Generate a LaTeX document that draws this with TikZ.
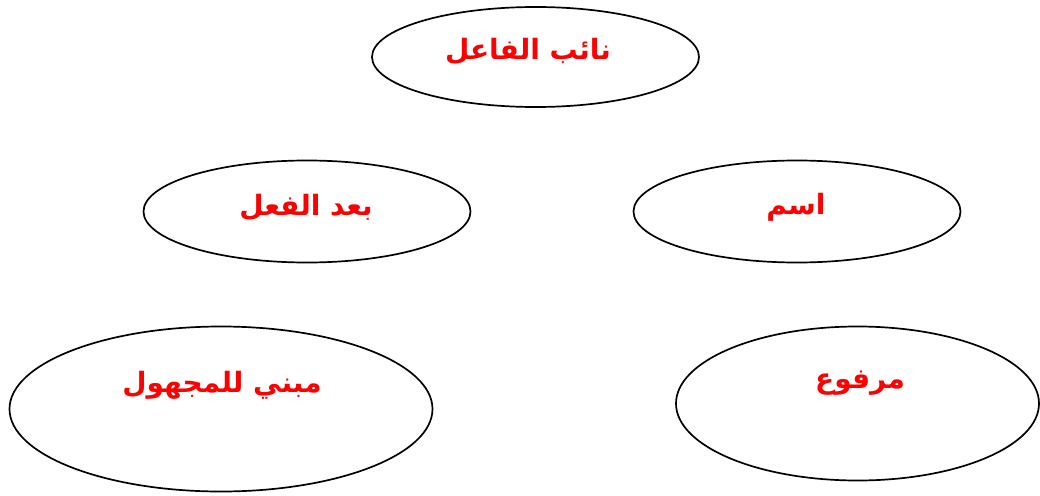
\documentclass[tikz,border=0pt]{standalone}
\usepackage{fontspec}
\usetikzlibrary{shapes.geometric}
\TeXXeTstate=1
\newfontfamily\arabicfont[Script=Arabic]{DejaVu Sans}
\begin{document}
\begin{tikzpicture}[x=1pt,y=-1pt,
  oval/.style={draw=black,line width=1.7pt,ellipse,inner sep=0pt,fill=white},
  lbl/.style={text=red,font=\arabicfont\bfseries\fontsize{28}{32}\selectfont,inner sep=0pt}]
\useasboundingbox[fill=white] (0,0) rectangle (1040,495);
\node[oval,minimum width=327pt,minimum height=100pt] (e1) at (535.5,57) {};
\node[oval,minimum width=327pt,minimum height=102pt] (e2) at (307,211.5) {};
\node[oval,minimum width=327pt,minimum height=102pt] (e3) at (797,211.5) {};
\node[oval,minimum width=423pt,minimum height=165pt] (e4) at (221,409) {};
\node[oval,minimum width=363pt,minimum height=154pt] (e5) at (857.5,403.5) {};
\node[lbl] (t1) at (528,51) {\beginR نائب الفاعل\endR};
\node[lbl] (t2) at (306,207) {\beginR بعد الفعل\endR};
\node[lbl] (t3) at (796,207) {\beginR اسم\endR};
\node[lbl] (t4) at (222,385) {\beginR مبني للمجهول\endR};
\node[lbl] (t5) at (860,383) {\beginR مرفوع\endR};
\end{tikzpicture}
\end{document}
